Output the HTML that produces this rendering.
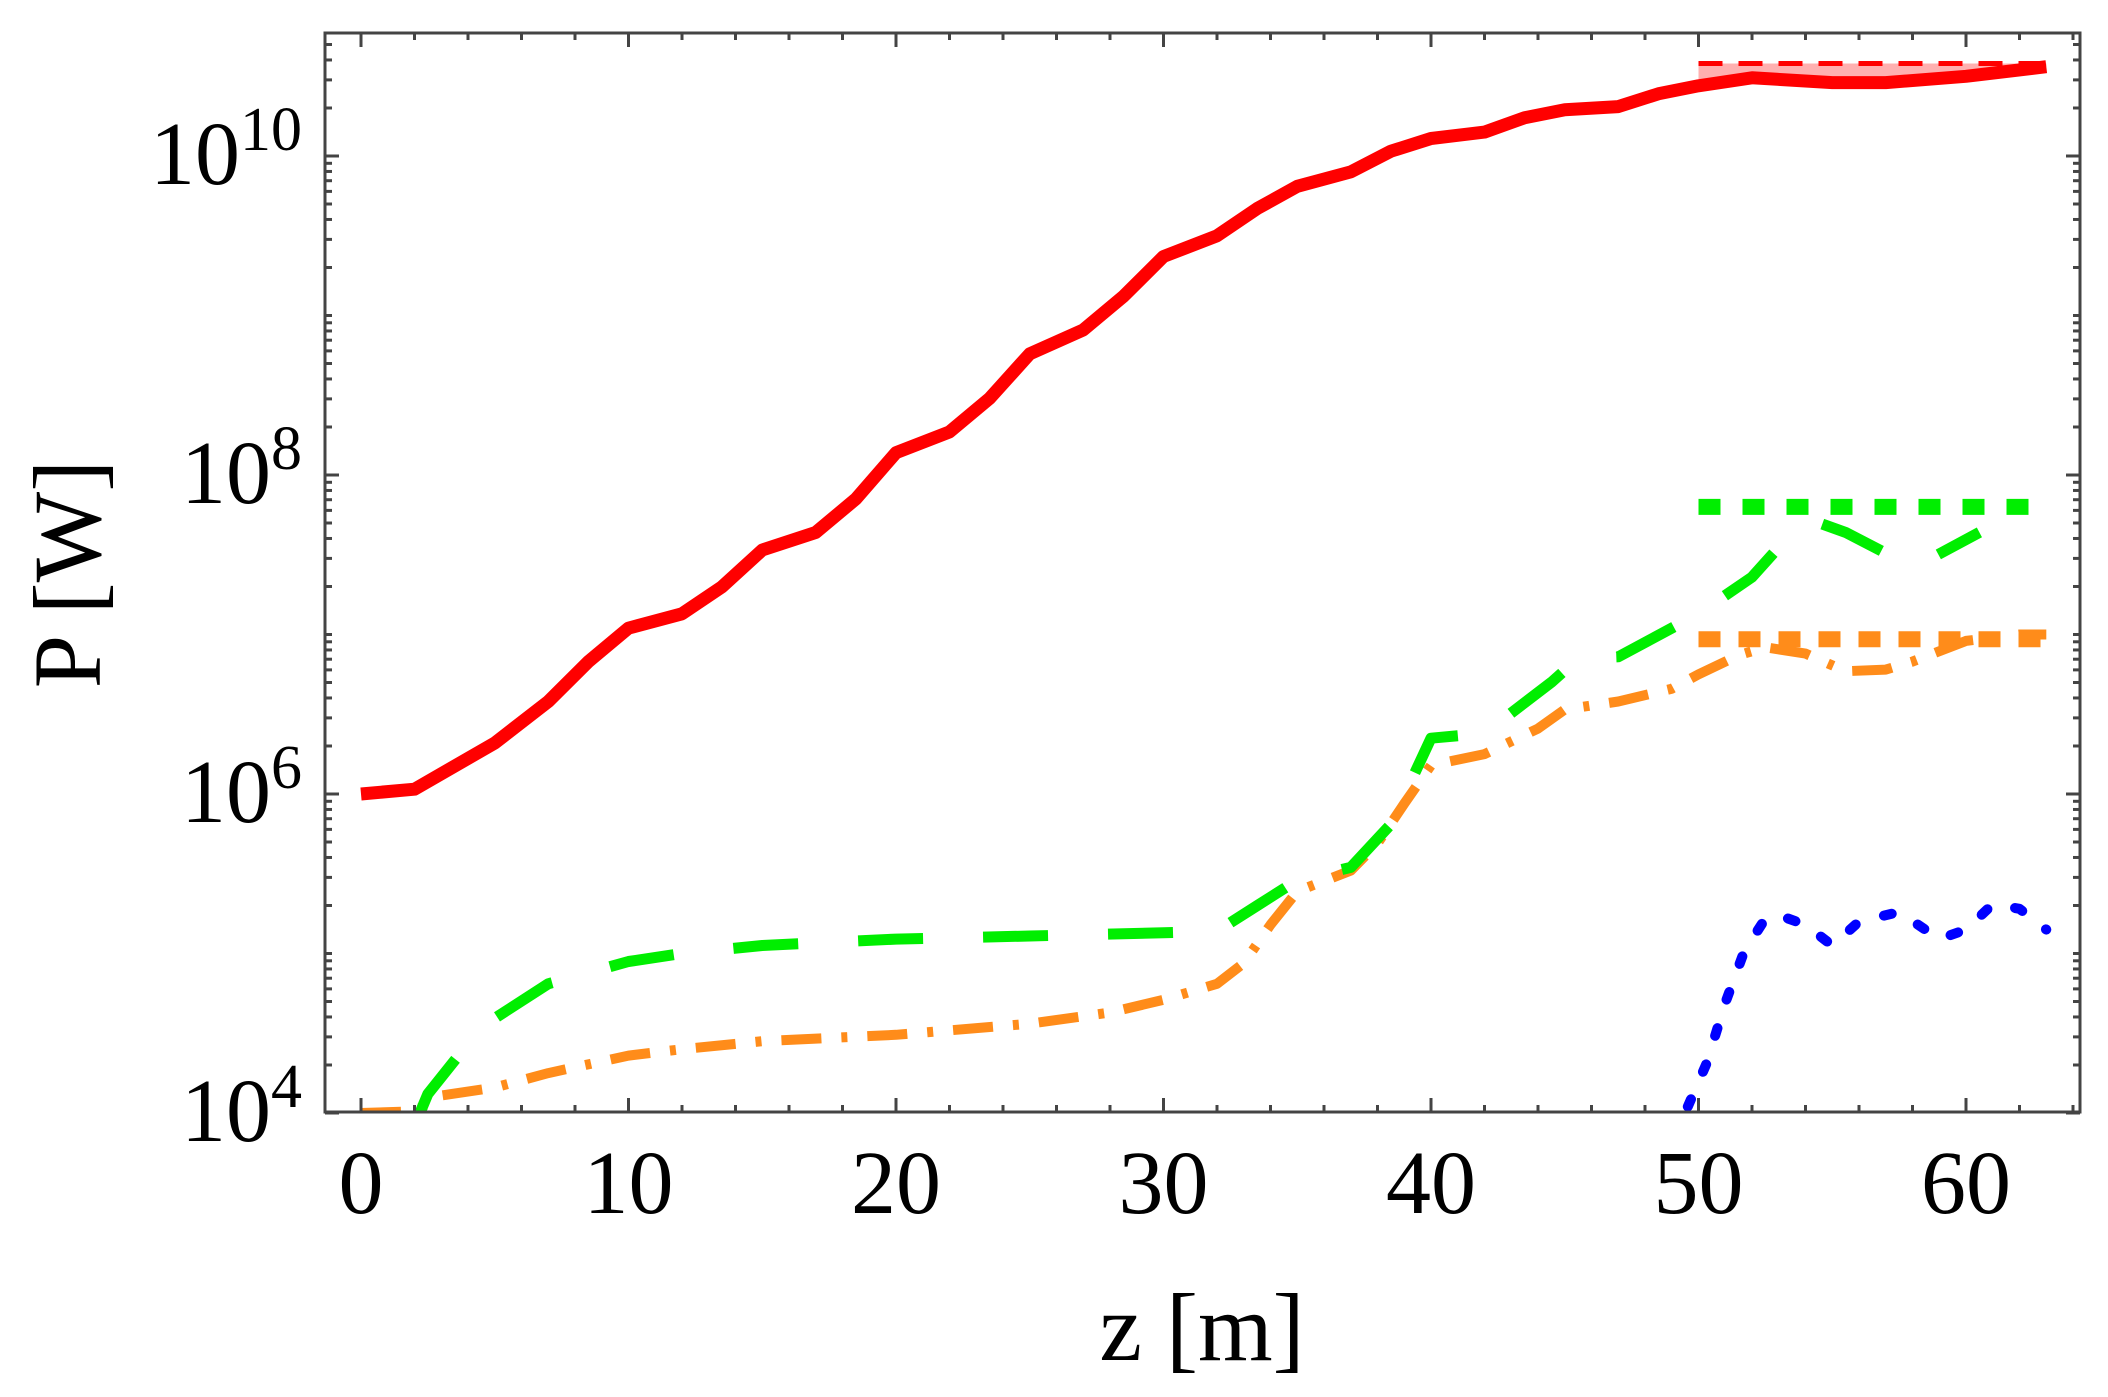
<!DOCTYPE html>
<html><head><meta charset="utf-8"><style>
html,body{margin:0;padding:0;background:#fff;}
svg{display:block;font-family:"Liberation Serif",serif;}
</style></head><body>
<svg id="chart" width="2108" height="1397" viewBox="0 0 2108 1397" xmlns="http://www.w3.org/2000/svg">
<defs><clipPath id="clip"><rect x="325" y="33" width="1755" height="1079"/></clipPath></defs>
<g id="plot" clip-path="url(#clip)"></g>
<rect x="325" y="33" width="1755" height="1079" fill="none" stroke="#444" stroke-width="3"/>
<g id="axes"></g>
<text x="1202" y="1360" font-size="96" text-anchor="middle">z [m]</text>
<text transform="translate(100,574) rotate(-90)" font-size="96" text-anchor="middle">P [W]</text>
</svg>
<script>
const xTicks=[0,10,20,30,40,50,60];
const yTicks=[4,6,8,10];
const redZ=[0,2,5,7,8.5,10,12,13.5,15,17,18.5,20,22,23.5,25,27,28.5,30,32,33.5,35,37,38.5,40,42,43.5,45,47,48.5,50,52,55,57,60,63];
const redP=[6.0,6.03,6.32,6.58,6.83,7.04,7.13,7.30,7.53,7.64,7.85,8.14,8.27,8.48,8.76,8.91,9.12,9.37,9.50,9.67,9.81,9.90,10.03,10.11,10.15,10.24,10.29,10.31,10.39,10.44,10.49,10.46,10.46,10.50,10.56];
const satZ=[50,63];
const redSatP=[10.58,10.58];
const greenSatP=[7.80,7.80];
const orangeSatP=[6.97,6.97];
const greenZ=[2.2,2.5,4.5,7,10,12,15,20,25,30,32,33.5,35,37,38.5,40,42,44.5,45.5,47,50,52,53.5,54.5,55.5,57,58.5,60.5];
const greenP=[4.0,4.12,4.54,4.81,4.95,5.0,5.05,5.09,5.11,5.13,5.14,5.30,5.46,5.54,5.81,6.35,6.38,6.70,6.85,6.86,7.13,7.36,7.64,7.70,7.64,7.51,7.46,7.64];
const orangeZ=[0,2,3,5,7,10,12,15,20,25,28,30,32,33,34,35,37,38,39,40,42,44,45,47,49,50,51.5,52.5,54,55.5,57,58,60,62,63];
const orangeP=[4.0,4.01,4.11,4.16,4.25,4.36,4.40,4.45,4.49,4.56,4.63,4.71,4.81,4.94,5.18,5.39,5.52,5.69,5.94,6.18,6.25,6.41,6.53,6.58,6.66,6.75,6.87,6.92,6.88,6.77,6.78,6.83,6.96,7.0,7.0];
const blueZ=[49.6,50.3,51,51.7,52.5,53,54,55,56,57.5,59,60,61,62,63];
const blueP=[4.04,4.31,4.69,5.01,5.22,5.24,5.18,5.05,5.20,5.26,5.09,5.15,5.31,5.28,5.15];

const NS='http://www.w3.org/2000/svg';
function X(z){return 361+z*26.75;}
function Y(l){return 794-(l-6)*159.5;}
const plot=document.getElementById('plot'), axes=document.getElementById('axes');
function mk(tag,attrs,parent){const e=document.createElementNS(NS,tag);for(const k in attrs)e.setAttribute(k,attrs[k]);parent.appendChild(e);return e;}
function pts(zs,ps){return zs.map((z,i)=>X(z).toFixed(1)+','+Y(ps[i]).toFixed(1)).join(' ');}

// pink band
const band=mk('polygon',{points:pts(satZ,redSatP)+' '+pts(redZ.filter(z=>z>=50).reverse(),redP.filter((p,i)=>redZ[i]>=50).reverse()),fill:'#ffb0b0'},plot);



const series=[
 [redZ,redP,{stroke:'#ff0000','stroke-width':13},'red-power-curve'],
 [satZ,redSatP,{stroke:'#ff0000','stroke-width':5,'stroke-dasharray':'24 16'},'red-saturation-line'],
 [satZ,greenSatP,{stroke:'#00ee00','stroke-width':16,'stroke-dasharray':'22 22'},'green-saturation-line'],
 [satZ,orangeSatP,{stroke:'#ff8c1a','stroke-width':16,'stroke-dasharray':'22 18'},'orange-saturation-line'],
 [orangeZ,orangeP,{stroke:'#ff8c1a','stroke-width':10,'stroke-dasharray':'40 20 6 20'},'orange-dotdash-curve'],
 [greenZ,greenP,{stroke:'#00ee00','stroke-width':11,'stroke-dasharray':'65 60'},'green-dashed-curve'],
 [blueZ,blueP,{stroke:'#0000ff','stroke-width':10,'stroke-dasharray':'8 30','stroke-linecap':'round'},'blue-dotted-curve']
];
for(const [zs,ps,st,name] of series){
 const a=Object.assign({points:pts(zs,ps),fill:'none','stroke-linejoin':'round'},st);
 const pl=mk('polyline',a,plot);
 
 
}

// x ticks
for(let z=0;z<=64;z+=2){
 const major=z%10===0, L=major?14:7;
 mk('line',{x1:X(z),x2:X(z),y1:1112,y2:1112-L,stroke:'#444','stroke-width':3},axes);
 mk('line',{x1:X(z),x2:X(z),y1:33,y2:33+L,stroke:'#444','stroke-width':3},axes);
}
for(const t of xTicks){
 const tx=mk('text',{x:X(t),y:1213,'font-size':90,'text-anchor':'middle'},axes);
 tx.textContent=t;
 
 
}
// y ticks
for(let d=4;d<=10;d++){
 for(let k=1;k<=9;k++){
  const l=d+Math.log10(k); if(l>10.77)continue;
  const L=k===1&&d%2===0?14:7;
  mk('line',{x1:325,x2:325+L,y1:Y(l),y2:Y(l),stroke:'#444','stroke-width':3},axes);
  mk('line',{x1:2080,x2:2080-L,y1:Y(l),y2:Y(l),stroke:'#444','stroke-width':3},axes);
 }
}
for(const t of yTicks){
 const tx=mk('text',{x:302,y:Y(t)+28,'font-size':90,'text-anchor':'end'},axes);
 
 
 const b=document.createElementNS(NS,'tspan');b.textContent='10';tx.appendChild(b);
 const s=document.createElementNS(NS,'tspan');s.setAttribute('font-size','62');s.setAttribute('dy','-34');s.textContent=t;tx.appendChild(s);
}
</script>
</body></html>
